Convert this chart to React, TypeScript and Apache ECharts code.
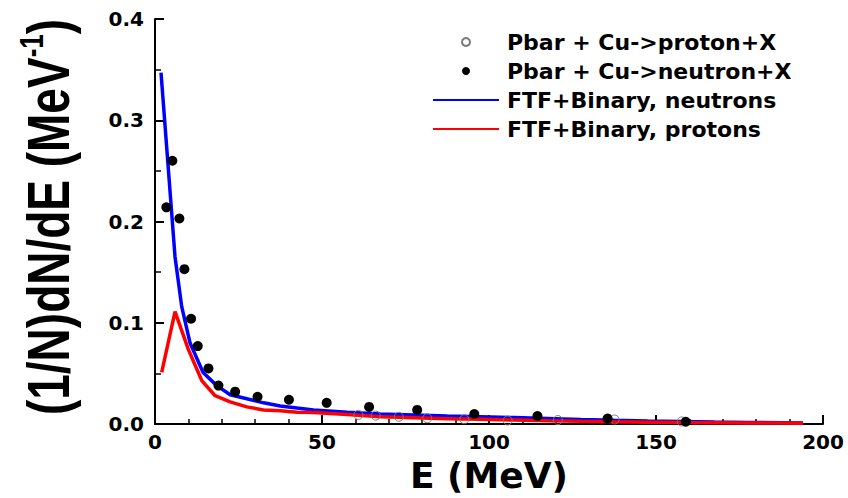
import { useEffect, useRef } from 'react';
import * as echarts from 'echarts';

// Measured data: Pbar + Cu -> neutron + X (filled circles)
const neutronE = [3.4, 5.2, 7.3, 8.8, 10.8, 12.8, 16.0, 19.0, 24.0, 30.7, 40.1, 51.4, 64.1, 78.5, 95.6, 114.5, 135.5, 158.9];
const neutronV = [0.214, 0.26, 0.203, 0.153, 0.104, 0.077, 0.055, 0.038, 0.032, 0.027, 0.024, 0.021, 0.017, 0.014, 0.01, 0.008, 0.0055, 0.0023];

// Measured data: Pbar + Cu -> proton + X (open circles)
const protonE = [60.9, 66.1, 73.0, 81.5, 92.6, 105.6, 120.6, 137.6, 157.7];
const protonV = [0.0091, 0.0084, 0.0072, 0.0058, 0.0048, 0.0036, 0.004, 0.0045, 0.0026];

// FTF+Binary simulation, neutrons
const simNeutronE = [1.8, 6.0, 8.0, 10.5, 14.4, 18.5, 22.5, 27.5, 32.5, 37.5, 42.5, 47.5, 57.5, 67.5, 77.5, 87.5, 97.5, 107.5, 117.5, 127.5, 137.5, 147.5, 157.5, 167.5, 177.5, 187.5, 194];
const simNeutronV = [0.347, 0.165, 0.116, 0.08, 0.051, 0.038, 0.029, 0.025, 0.021, 0.0178, 0.0158, 0.014, 0.0116, 0.01, 0.009, 0.0081, 0.0073, 0.0064, 0.0055, 0.0046, 0.0038, 0.0031, 0.0026, 0.0021, 0.0017, 0.0014, 0.0012];

// FTF+Binary simulation, protons
const simProtonE = [2.0, 6.0, 10.0, 14.0, 18.0, 22.5, 27.5, 32.5, 37.5, 42.5, 47.5, 57.5, 67.5, 77.5, 87.5, 97.5, 107.5, 117.5, 127.5, 137.5, 147.5, 157.5, 167.5, 177.5, 187.5, 194];
const simProtonV = [0.051, 0.111, 0.0735, 0.043, 0.028, 0.022, 0.017, 0.014, 0.0132, 0.0116, 0.0115, 0.0095, 0.0072, 0.0062, 0.0054, 0.0047, 0.004, 0.0033, 0.0027, 0.0022, 0.0019, 0.0016, 0.0014, 0.0012, 0.001, 0.0009];

const seriesNames = [
  'Pbar + Cu->proton+X',
  'Pbar + Cu->neutron+X',
  'FTF+Binary, neutrons',
  'FTF+Binary, protons',
];

const pairs = (xs: number[], ys: number[]) => xs.map((x, i) => [x, ys[i]]);

const tickFont = {
  fontFamily: '"DejaVu Sans", sans-serif',
  fontWeight: 'bold' as const,
  fontSize: 20,
  color: '#000',
};

export default function App() {
  const ref = useRef<HTMLDivElement>(null);

  useEffect(() => {
    const chart = echarts.init(ref.current!, null, { renderer: 'svg' });
    chart.setOption({
      animation: false,
      backgroundColor: '#fff',
      grid: { left: 155, right: 25, top: 19, bottom: 65, containLabel: false },
      legend: {
        orient: 'vertical',
        left: 432,
        top: 30,
        padding: 0,
        itemWidth: 66,
        itemHeight: 8,
        itemGap: 5,
        selectedMode: false,
        data: [
          { name: seriesNames[0] },
          { name: seriesNames[1] },
          // line entries: plain stroke, no marker in the middle
          { name: seriesNames[2], itemStyle: { opacity: 0 } },
          { name: seriesNames[3], itemStyle: { opacity: 0 } },
        ],
        textStyle: {
          fontFamily: '"DejaVu Sans", sans-serif',
          fontWeight: 'bold',
          fontSize: 22,
          lineHeight: 24,
          color: '#000',
          padding: [0, 0, 0, 3],
        },
      },
      xAxis: {
        type: 'value',
        min: 0,
        max: 200,
        interval: 50,
        name: 'E (MeV)',
        nameLocation: 'middle',
        nameGap: 28,
        nameTextStyle: {
          fontFamily: '"DejaVu Sans", sans-serif',
          fontWeight: 'bold',
          fontSize: 36,
          color: '#000',
        },
        axisLine: { show: true, lineStyle: { color: '#000', width: 2 } },
        axisTick: { show: true, inside: true, length: 9, lineStyle: { color: '#000', width: 2 } },
        minorTick: { show: true, splitNumber: 5, length: 5, lineStyle: { color: '#000', width: 1.5 } },
        axisLabel: { ...tickFont, margin: 8 },
        splitLine: { show: false },
      },
      yAxis: {
        type: 'value',
        min: 0,
        max: 0.4,
        interval: 0.1,
        axisLine: { show: true, lineStyle: { color: '#000', width: 2 } },
        axisTick: { show: true, inside: true, length: 9, lineStyle: { color: '#000', width: 2 } },
        minorTick: { show: true, splitNumber: 2, length: 6, lineStyle: { color: '#000', width: 1.5 } },
        axisLabel: { ...tickFont, margin: 11, formatter: (v: number) => v.toFixed(1) },
        splitLine: { show: false },
      },
      graphic: [
        {
          type: 'text',
          x: 48,
          y: 217,
          rotation: Math.PI / 2,
          scaleY: 1.27,
          style: {
            text: '(1/N)dN/dE (MeV{sup|-1})',
            font: 'bold 46px "Liberation Sans", Arial, sans-serif',
            lineHeight: 52,
            fill: '#000',
            align: 'center',
            verticalAlign: 'middle',
            rich: {
              sup: {
                font: 'bold 26px "Liberation Sans", Arial, sans-serif',
                lineHeight: 26,
                verticalAlign: 'top',
                fill: '#000',
              },
            },
          },
        },
      ],
      series: [
        {
          name: seriesNames[0],
          type: 'scatter',
          data: pairs(protonE, protonV),
          symbol: 'circle',
          symbolSize: 9,
          itemStyle: { color: 'rgba(255,255,255,0)', borderColor: '#7a7a7a', borderWidth: 1, opacity: 1 },
          emphasis: { disabled: true },
          z: 4,
        },
        {
          name: seriesNames[1],
          type: 'scatter',
          data: pairs(neutronE, neutronV),
          symbol: 'circle',
          symbolSize: 10,
          itemStyle: { color: '#000', opacity: 1 },
          emphasis: { disabled: true },
          z: 5,
        },
        {
          name: seriesNames[2],
          type: 'line',
          data: pairs(simNeutronE, simNeutronV),
          symbol: 'none',
          lineStyle: { color: '#0000ff', width: 3.5 },
          itemStyle: { color: '#0000ff' },
          emphasis: { disabled: true },
          z: 2,
        },
        {
          name: seriesNames[3],
          type: 'line',
          data: pairs(simProtonE, simProtonV),
          symbol: 'none',
          lineStyle: { color: '#ff0000', width: 3.5 },
          itemStyle: { color: '#ff0000' },
          emphasis: { disabled: true },
          z: 3,
        },
      ],
    });
    return () => chart.dispose();
  }, []);

  return (
    <div
      ref={ref}
      style={{ position: 'fixed', left: 0, top: 0, width: 848, height: 498, background: '#fff' }}
    />
  );
}
